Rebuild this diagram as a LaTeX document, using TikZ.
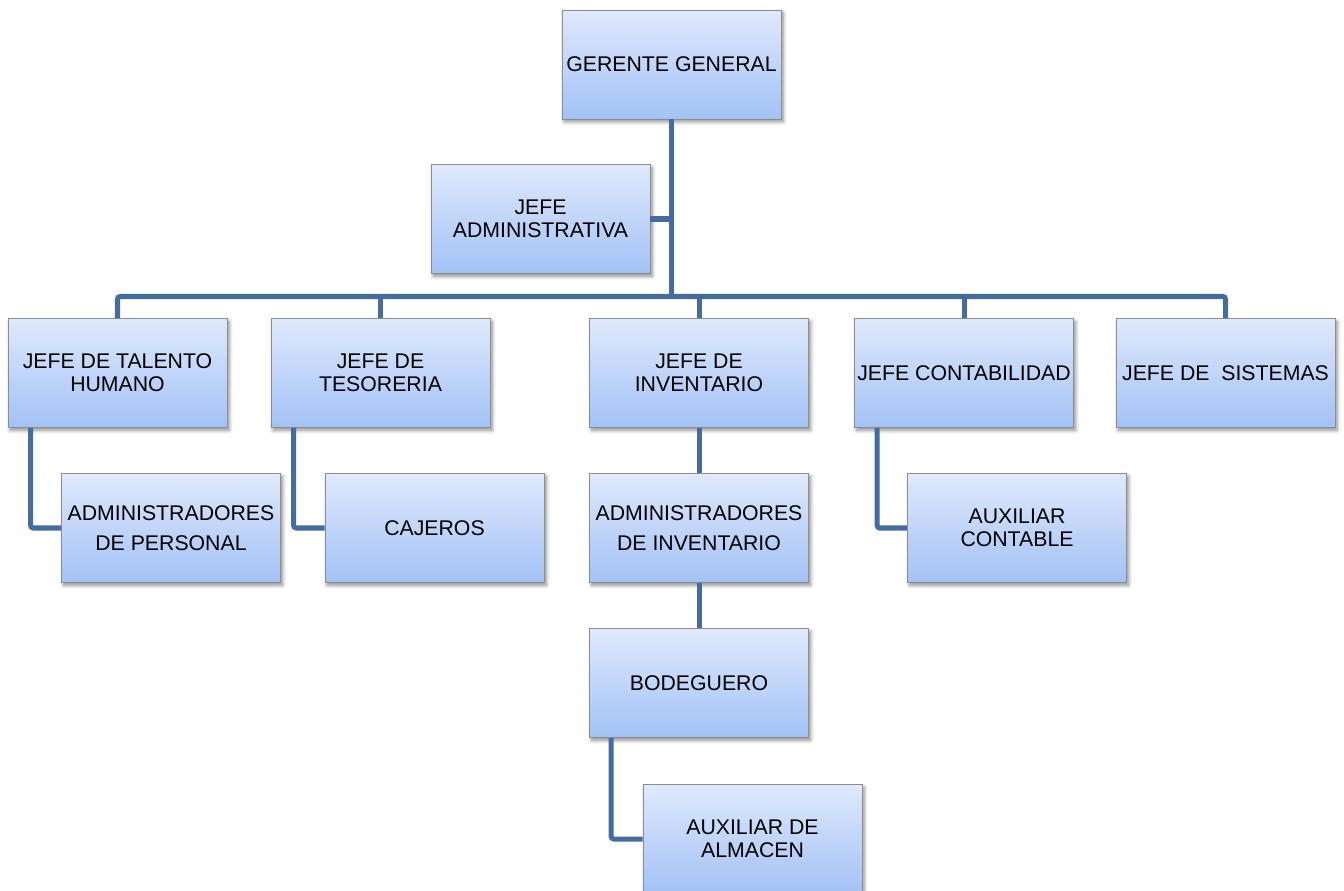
\documentclass[tikz,border=0pt]{standalone}
\usepackage{fontspec}
\setmainfont{Liberation Sans}
\usepackage{xcolor}
\usetikzlibrary{calc,shadows.blur}
\definecolor{boxtop}{RGB}{224,233,252}
\definecolor{boxbot}{RGB}{162,194,246}
\definecolor{boxline}{RGB}{140,140,140}
\definecolor{linkblue}{RGB}{68,108,160}
\tikzset{>=latex,
  post/.style={draw=boxline, line width=0.5pt, top color=boxtop, bottom color=boxbot,
    minimum width=4.38cm, minimum height=2.18cm, inner sep=0pt, align=center,
    font=\fontsize{12.1pt}{12.9pt}\selectfont,
    blur shadow={shadow xshift=1.2pt, shadow yshift=-1.6pt, shadow blur steps=6, shadow opacity=45}},
  wide/.style={font=\fontsize{12.1pt}{17pt}\selectfont},
  link/.style={draw=linkblue, line width=2.85pt, rounded corners=1.5pt}}

\begin{document}
\begin{tikzpicture}[x=0.02cm, y=-0.02cm]
    \useasboundingbox (0, 0) rectangle (1344, 891);
    \node[post] (gg) at (671.5, 64.5) {GERENTE GENERAL};
    \node[post] (adm) at (540.5, 219) {JEFE\\ADMINISTRATIVA};
    \node[post] (tal) at (117.5, 373) {JEFE DE TALENTO\\HUMANO};
    \node[post] (tes) at (380.5, 373) {JEFE DE\\TESORERIA};
    \node[post] (inv) at (699, 373) {JEFE DE\\INVENTARIO};
    \node[post] (con) at (964, 373) {JEFE CONTABILIDAD};
    \node[post] (sis) at (1225.5, 373) {JEFE DE\ \ SISTEMAS};
    \node[post, wide] (per) at (171, 528) {ADMINISTRADORES\\DE PERSONAL};
    \node[post] (caj) at (434.5, 528) {CAJEROS};
    \node[post, wide] (ainv) at (699, 528) {ADMINISTRADORES\\DE INVENTARIO};
    \node[post] (aux) at (1017, 528) {AUXILIAR\\CONTABLE};
    \node[post] (bod) at (699, 683) {BODEGUERO};
    \node[post] (alm) at (752.5, 839) {AUXILIAR DE\\ALMACEN};
    \coordinate (bus) at (0, 296.5);
    \draw[link] (gg.south) -- (gg.south |- bus);
    \draw[link] (adm.east) -- (adm.east -| gg.south);
    \draw[link] (tal.north) |- (bus -| sis.north) -- (sis.north);
    \draw[link] (tes.north) -- (tes.north |- bus);
    \draw[link] (inv.north) -- (inv.north |- bus);
    \draw[link] (con.north) -- (con.north |- bus);
    \draw[link] ($(tal.south west)+(23, 0)$) |- (per.west);
    \draw[link] ($(tes.south west)+(23, 0)$) |- (caj.west);
    \draw[link] ($(con.south west)+(23, 0)$) |- (aux.west);
    \draw[link] (inv.south) -- (ainv.north);
    \draw[link] (ainv.south) -- (bod.north);
    \draw[link] ($(bod.south west)+(22, 0)$) |- (alm.west);
\end{tikzpicture}
\end{document}
